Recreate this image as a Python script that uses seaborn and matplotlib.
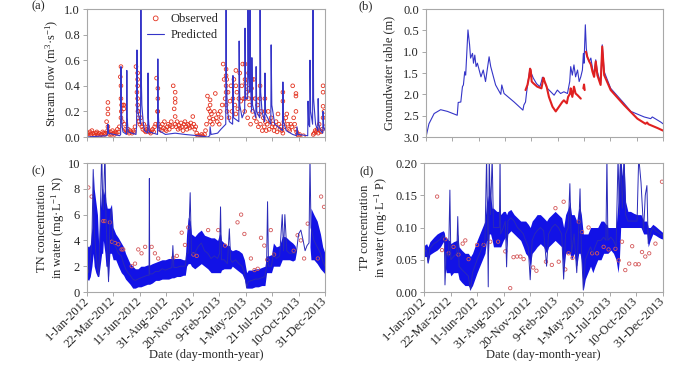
import numpy as np
import pandas as pd
import matplotlib
matplotlib.use("Agg")
import matplotlib.pyplot as plt
import seaborn as sns

# ---- shared x axis (days since 1-Jan-2012) ----
tick_days = [0, 81, 162, 243, 324, 405, 486, 567, 648, 729]
tick_labels = ['1-Jan-2012', '22-Mar-2012', '11-Jun-2012', '31-Aug-2012', '20-Nov-2012',
               '9-Feb-2013', '1-May-2013', '21-Jul-2013', '10-Oct-2013', '31-Dec-2013']

# ---- (a) stream flow ----
# observed, sampled every 3 days
flow_obs = [
    0.02, 0.03, 0.01, 0.04, 0.02, 0.05, 0.03, 0.02, 0.01, 0.03,
    0.04, 0.02, 0.03, 0.01, 0.02, 0.02, 0.04, 0.03, 0.02, 0.03,
    0.12, 0.05, 0.03, 0.02, 0.04, 0.02, 0.05, 0.03, 0.02, 0.04,
    0.03, 0.06, 0.04, 0.08, 0.47, 0.20, 0.12, 0.25, 0.10, 0.06,
    0.05, 0.04, 0.06, 0.03, 0.05, 0.04, 0.03, 0.05, 0.04, 0.08,
    0.55, 0.35, 0.20, 0.12, 0.10, 0.15, 0.08, 0.06, 0.10, 0.05,
    0.04, 0.06, 0.08, 0.05, 0.04, 0.03, 0.05, 0.06, 0.04, 0.08,
    0.10, 0.46, 0.20, 0.10, 0.06, 0.08, 0.05, 0.10, 0.07, 0.12,
    0.06, 0.05, 0.08, 0.10, 0.06, 0.09, 0.12, 0.08, 0.40, 0.22,
    0.10, 0.08, 0.12, 0.06, 0.09, 0.07, 0.11, 0.08, 0.05, 0.10,
    0.12, 0.08, 0.06, 0.10, 0.09, 0.07, 0.11, 0.08, 0.16, 0.10,
    0.06, 0.08, 0.03, 0.01, 0.00, 0.01, 0.00, 0.02, 0.01, 0.00,
    0.02, 0.05, 0.10, 0.32, 0.22, 0.15, 0.12, 0.18, 0.10, 0.14,
    0.20, 0.34, 0.15, 0.12, 0.18, 0.10, 0.20, 0.15, 0.25, 0.57,
    0.45, 0.30, 0.25, 0.20, 0.35, 0.15, 0.28, 0.40, 0.20, 0.30,
    0.45, 0.25, 0.18, 0.35, 0.22, 0.30, 0.50, 0.28, 0.40, 0.57,
    0.30, 0.20, 0.42, 0.35, 0.15, 0.30, 0.25, 0.10, 0.38, 0.20,
    0.45, 0.15, 0.30, 0.12, 0.25, 0.08, 0.18, 0.10, 0.20, 0.05,
    0.15, 0.08, 0.12, 0.05, 0.10, 0.20, 0.06, 0.12, 0.15, 0.08,
    0.10, 0.05, 0.08, 0.12, 0.04, 0.18, 0.10, 0.06, 0.08, 0.05,
    0.03, 0.12, 0.08, 0.15, 0.18, 0.10, 0.06, 0.05, 0.10, 0.08,
    0.40, 0.15, 0.10, 0.06, 0.04, 0.02, 0.01, 0.02, np.nan, np.nan,
    np.nan, 0.01, np.nan, np.nan, np.nan, np.nan, np.nan, np.nan, np.nan, np.nan,
    np.nan, 0.02, 0.03, 0.05, 0.04, 0.06, 0.03, 0.10, 0.05, 0.04,
    0.06, 0.40, 0.20, 0.08,
]
# extra observed points during storm recessions
flow_ev_day = [64, 64, 64, 64, 104, 104, 104, 104, 106, 113, 113, 155, 155, 155, 155, 155,
               157, 157, 217, 217, 217, 270, 270, 270, 270, 377, 377, 377, 426, 426, 426, 426,
               428, 456, 456, 484, 484, 484, 495, 495, 505, 505, 530, 530, 545, 545,
               600, 600, 640, 640, 640, 723, 723, 723]
flow_ev_val = [0.27, 0.22, 0.18, 0.08, 0.55, 0.40, 0.30, 0.15, 0.25, 0.25, 0.22, 0.50, 0.45, 0.40, 0.30, 0.25,
               0.15, 0.20, 0.38, 0.30, 0.20, 0.35, 0.30, 0.27, 0.16, 0.29, 0.25, 0.20, 0.53, 0.48, 0.40, 0.35,
               0.45, 0.52, 0.40, 0.57, 0.45, 0.30, 0.50, 0.38, 0.45, 0.30, 0.40, 0.30, 0.30, 0.20,
               0.35, 0.28, 0.34, 0.32, 0.20, 0.35, 0.24, 0.15]
flow_pred_day = [0, 60, 63, 64, 66, 100, 103, 104, 105, 107, 110, 121, 122, 123, 126, 150, 152, 153,
                 154, 156, 164, 165, 166, 168, 172, 176, 186, 187, 188, 191, 216, 217, 218, 221,
                 240, 270, 300, 340, 370, 376, 377, 380, 400, 410, 425, 426, 427, 430, 436, 446,
                 447, 449, 465, 466, 468, 475, 483, 484, 486, 492, 493, 495, 498, 499, 501, 504,
                 505, 507, 517, 518, 520, 529, 530, 532, 536, 544, 545, 547, 563, 564, 566, 575,
                 599, 600, 602, 610, 630, 642, 643, 646, 676, 677, 679, 682, 683, 685, 691, 692,
                 694, 700, 707, 708, 710, 715, 722, 723, 725, 729]
flow_pred_val = [0.0, 0.01, 0.02, 0.10, 0.03, 0.01, 0.02, 0.55, 0.25, 0.10, 0.04, 0.02, 0.52, 0.15, 0.04, 0.02, 0.10, 0.68,
                 0.30, 0.20, 0.10, 1.30, 0.50, 0.25, 0.12, 0.05, 0.03, 0.50, 0.15, 0.04, 0.02, 0.61, 0.20, 0.05,
                 0.02, 0.03, 0.02, 0.01, 0.0, 0.01, 0.08, 0.02, 0.03, 0.06, 0.10, 1.30, 0.45, 0.20, 0.12, 0.10,
                 0.48, 0.15, 0.12, 0.75, 0.25, 0.15, 0.20, 0.85, 0.30, 0.30, 1.30, 0.50, 0.35, 1.30, 0.40, 0.20,
                 0.62, 0.25, 0.15, 0.55, 0.20, 0.15, 1.30, 0.35, 0.20, 0.12, 0.50, 0.18, 0.10, 0.72, 0.25, 0.10,
                 0.05, 0.43, 0.12, 0.05, 0.02, 0.01, 0.08, 0.02, 0.01, 0.28, 0.10, 0.08, 0.60, 0.20, 0.10, 1.30,
                 0.30, 0.10, 0.05, 0.30, 0.10, 0.05, 0.03, 0.20, 0.08, 0.05]

# ---- (b) groundwater table depth ----
gw_pred_day = [0, 9, 25, 45, 66, 96, 99, 107, 112, 115, 119, 122, 129, 134, 137, 143, 146, 150, 154, 158,
               169, 176, 183, 194, 199, 214, 230, 233, 240, 271, 298, 301, 306, 309, 313, 316, 320, 324,
               330, 340, 350, 355, 358, 364, 372, 394, 404, 414, 424, 435, 442, 445, 450, 455, 460, 466,
               471, 476, 481, 484, 486, 490, 493, 496, 502, 507, 512, 517, 522, 527, 537, 542, 548, 568,
               609, 630, 671, 691, 696, 722, 729]
gw_pred_val = [3.0, 2.69, 2.45, 2.36, 2.40, 2.49, 2.19, 2.18, 1.82, 1.78, 1.47, 1.55, 0.49, 0.84, 1.15, 1.04, 1.27, 1.08, 1.35, 1.27,
               1.59, 1.43, 1.70, 1.12, 1.35, 1.78, 2.00, 1.78, 1.98, 2.18, 2.37, 2.25, 2.18, 1.98, 1.74, 1.59, 1.39, 1.51,
               1.62, 1.75, 1.82, 1.70, 1.60, 1.70, 1.85, 2.02, 1.90, 1.98, 1.94, 1.98, 1.70, 1.35, 1.55, 1.31, 1.59, 1.43,
               1.70, 1.59, 1.43, 1.04, 1.27, 0.37, 0.92, 1.12, 1.23, 1.15, 1.39, 1.55, 1.19, 1.47, 1.74, 0.84, 1.47, 1.86,
               2.21, 2.40, 2.53, 2.57, 2.53, 2.65, 2.69]
gw_obs_day = [306, 312, 317, 320, 322, 325, 330, 342, 355, 358, 361, 365, 371, 378, 389, 399, 409, 419, 424,
              433, 437, 443, 445, 450, 455, 460, 466, 476,
              484, 486, 488,
              492, 496, 502, 507, 512, 517, 522, 527, 537, 542, 548, 568, 609, 650, 675, 680, 684, 712, 729]
gw_obs_val = [1.90, 1.78, 1.59, 1.40, 1.43, 1.70, 1.74, 1.82, 1.86, 1.74, 1.61, 1.70, 1.82, 2.06, 2.29, 2.40, 2.29, 2.18, 2.14,
              2.21, 2.06, 1.98, 1.86, 2.06, 1.82, 1.98, 2.02, 2.10,
              1.86, 1.77, 1.90,
              1.00, 1.12, 1.23, 1.30, 1.47, 1.59, 1.23, 1.55, 1.78, 0.88, 1.55, 1.90, 2.25, 2.57, 2.69, 2.66, 2.70, 2.79, 2.85]
gw_obs_seg = [1] * 28 + [2] * 3 + [3] * 19

# ---- (c) TN concentration ----
tn_day = [0, 5, 10, 15, 19, 22, 27, 32, 36, 40,
          45, 48, 50, 55, 58, 62, 66, 70, 75, 80,
          88, 96, 105, 112, 118, 125, 132, 140, 148, 156,
          165, 175, 185, 190, 191, 192, 200, 210, 220, 230,
          240, 250, 260, 263, 266, 275, 285, 295, 301, 305,
          310, 316, 320, 330, 340, 350, 360, 370, 380, 390,
          400, 406, 409, 412, 420, 430, 436, 440, 445, 455,
          465, 475, 482, 489, 494, 505, 515, 525, 535, 545,
          550, 553, 556, 565, 571, 580, 590, 598, 602, 606,
          612, 620, 630, 637, 642, 648, 655, 662, 668, 674,
          680, 683, 686, 695, 705, 715, 722, 729]
tn_low = [1.0, 0.9, 1.2, 2.0, 3.0, 2.0, 1.5, 1.2, 1.2, 2.0,
          3.0, 3.0, 4.0, 3.0, 2.0, 2.0, 1.2, 3.0, 3.0, 2.5,
          2.5, 2.0, 1.5, 1.3, 1.0, 0.8, 0.6, 0.3, 0.3, 0.4,
          0.4, 0.5, 0.6, 0.6, 0.6, 0.6, 0.7, 0.9, 0.9, 1.0,
          1.0, 1.0, 1.1, 1.1, 1.1, 1.2, 1.2, 1.3, 1.3, 2.0,
          2.2, 2.2, 2.0, 1.8, 2.0, 2.2, 2.0, 1.8, 1.5, 1.5,
          1.5, 1.5, 1.5, 1.7, 1.8, 1.8, 1.8, 1.8, 2.0, 1.8,
          1.6, 1.4, 1.0, 0.3, 0.3, 0.3, 0.4, 0.4, 0.5, 0.5,
          1.5, 1.5, 1.5, 1.5, 2.0, 2.0, 2.0, 2.5, 2.5, 2.5,
          2.5, 2.5, 2.4, 2.5, 3.2, 4.5, 4.8, 4.0, 3.2, 3.5,
          3.5, 3.5, 2.5, 2.5, 2.2, 1.8, 1.6, 1.4]
tn_high = [3.6, 3.5, 3.7, 5.0, 9.5, 8.0, 7.0, 6.0, 3.5, 6.0,
           8.0, 8.0, 7.5, 8.0, 7.0, 6.5, 6.5, 6.5, 6.8, 5.0,
           4.5, 4.2, 3.8, 3.5, 3.0, 2.6, 2.2, 2.0, 1.8, 1.8,
           2.0, 2.0, 2.1, 2.1, 2.1, 2.1, 2.2, 2.3, 2.4, 2.5,
           2.5, 2.6, 2.6, 2.6, 2.6, 2.6, 2.6, 2.5, 2.5, 4.5,
           5.8, 5.5, 4.5, 4.3, 4.6, 4.8, 4.4, 4.3, 4.2, 4.2,
           4.0, 4.5, 4.5, 4.0, 3.8, 3.6, 3.6, 3.3, 3.2, 3.3,
           3.2, 3.0, 2.5, 1.5, 1.7, 1.7, 1.8, 1.8, 1.9, 2.0,
           2.8, 2.8, 2.8, 2.9, 3.8, 3.5, 3.6, 4.3, 4.3, 4.3,
           4.2, 4.0, 3.8, 3.6, 3.2, 4.5, 4.8, 4.0, 3.2, 3.5,
           3.5, 3.5, 6.5, 6.0, 5.5, 4.5, 3.5, 3.0]
tn_pred = [2.0, 1.5, 2.5, 4.0, 9.5, 5.0, 3.0, 2.0, 1.3, 5.0,
           11.0, 7.0, 6.4, 11.0, 6.0, 3.0, 0.8, 5.5, 6.5, 3.8,
           3.5, 3.0, 2.8, 2.2, 1.8, 1.5, 1.3, 1.0, 0.9, 1.0,
           1.1, 1.2, 1.3, 1.3, 8.8, 1.4, 1.4, 1.6, 1.6, 1.8,
           1.7, 1.8, 1.9, 3.6, 1.9, 1.9, 2.0, 2.0, 2.0, 3.0,
           3.0, 7.7, 3.0, 3.0, 3.5, 3.8, 3.2, 3.0, 2.6, 2.8,
           2.6, 3.0, 6.6, 2.5, 2.5, 2.2, 4.9, 2.5, 2.3, 2.5,
           2.2, 2.0, 1.5, 0.3, 0.8, 0.9, 1.0, 1.0, 1.1, 1.2,
           2.0, 7.0, 2.0, 2.0, 3.0, 2.6, 2.8, 6.0, 3.2, 6.0,
           3.2, 3.0, 3.0, 3.0, 3.2, 4.5, 4.8, 4.0, 3.2, 3.6,
           3.8, 10.5, 5.0, 4.0, 3.5, 3.0, 2.4, 2.0]
tn_obs_day = [4, 14, 50, 55, 70, 76, 86, 96, 106, 111, 137, 147, 157, 167, 178, 198, 208, 218, 264, 275,
              290, 300, 310, 326, 336, 371, 402, 423, 461, 472, 482, 502, 513, 523, 533, 543, 552, 563,
              573, 633, 645, 655, 665, 676, 707, 717, 726]
tn_obs_val = [8.1, 7.4, 5.5, 5.5, 5.4, 3.9, 3.8, 3.7, 3.3, 3.3, 2.0, 2.2, 3.3, 3.0, 3.5, 3.5, 3.0, 2.6, 2.65, 2.8,
              4.6, 3.65, 5.0, 2.9, 2.8, 4.8, 4.8, 3.6, 5.4, 6.0, 4.5, 2.6, 1.7, 1.8, 4.2, 3.6, 2.5, 4.8,
              2.9, 3.2, 4.4, 4.0, 2.6, 5.3, 2.6, 7.4, 6.6]

# ---- (d) TP concentration ----
tp_day = [0, 8, 12, 18, 30, 40, 50, 59, 62, 64,
          68, 75, 79, 82, 90, 100, 103, 107, 115, 125,
          135, 142, 148, 155, 162, 170, 178, 186, 191, 194,
          196, 199, 203, 208, 212, 222, 230, 232, 234, 242,
          248, 252, 256, 265, 275, 285, 295, 303, 310, 318,
          324, 330, 338, 345, 355, 365, 374, 380, 390, 400,
          410, 420, 426, 432, 440, 445, 450, 458, 466, 472,
          476, 480, 486, 492, 500, 508, 515, 522, 530, 540,
          548, 555, 558, 561, 570, 578, 586, 592, 596, 600,
          605, 610, 615, 622, 630, 640, 650, 655, 662, 670,
          675, 680, 684, 690, 698, 706, 715, 722, 729]
tp_low = [.055, .055, .044, .058, .062, .065, .070, .078, .075, .040,
          .030, .030, .030, .025, .030, .030, .030, .020, .015, .010,
          .010, .005, .010, .020, .030, .040, .050, .060, .080, .080,
          .050, .090, .090, .080, .070, .070, .070, .070, .070, .080,
          .085, .070, .090, .095, .090, .085, .080, .070, .060, .055,
          .040, .060, .065, .070, .075, .070, .060, .070, .075, .080,
          .075, .070, .030, .060, .060, .060, .050, .060, .040, .060,
          .060, .050, .003, .020, .030, .040, .030, .040, .050, .050,
          .060, .060, .060, .060, .065, .060, .050, .030, .050, .100,
          .100, .100, .100, .100, .100, .100, .100, .100, .100, .090,
          .090, .090, .070, .080, .090, .088, .085, .083, .082]
tp_high = [.072, .075, .070, .078, .085, .090, .093, .095, .092, .085,
           .085, .080, .080, .075, .078, .080, .090, .070, .065, .060,
           .060, .055, .060, .070, .080, .090, .100, .110, .140, .150,
           .140, .170, .150, .130, .130, .125, .125, .130, .120, .125,
           .125, .120, .125, .128, .120, .115, .110, .110, .110, .105,
           .100, .110, .115, .120, .120, .115, .110, .115, .120, .125,
           .120, .115, .100, .120, .130, .140, .120, .120, .110, .130,
           .130, .120, .090, .090, .090, .100, .100, .100, .100, .110,
           .110, .105, .105, .100, .100, .100, .100, .140, .200, .210,
           .180, .210, .140, .125, .125, .122, .120, .120, .120, .110,
           .110, .110, .100, .100, .105, .102, .098, .095, .092]
tp_pred = [.062, .065, .045, .068, .075, .078, .082, .088, .085, .011,
           .060, .055, .158, .050, .055, .060, .117, .040, .035, .030,
           .025, .003, .030, .040, .050, .060, .070, .080, .210, .100,
           .008, .210, .120, .210, .100, .100, .100, .210, .090, .100,
           .110, .039, .110, .115, .110, .100, .095, .090, .080, .070,
           .019, .080, .090, .095, .100, .095, .040, .090, .100, .105,
           .100, .090, .020, .090, .100, .168, .060, .090, .030, .100,
           .160, .070, .003, .050, .060, .070, .060, .070, .080, .080,
           .085, .080, .210, .080, .085, .080, .070, .210, .120, .210,
           .130, .210, .120, .110, .110, .110, .110, .210, .170, .095,
           .150, .165, .075, .090, .100, .095, .092, .090, .088]
tp_obs_day = [40, 55, 65, 75, 90, 105, 118, 126, 136, 162, 182, 202, 226, 248, 263, 273, 284, 294, 304, 333,
              343, 372, 390, 401, 411, 426, 431, 441, 453, 472, 482, 502, 513, 528, 548, 563, 584, 594,
              604, 614, 626, 635, 645, 655, 665, 675, 687, 706, 726]
tp_obs_val = [0.148, 0.065, 0.082, 0.060, 0.070, 0.058, 0.075, 0.080, 0.051, 0.073, 0.073, 0.078, 0.078, 0.063,
              0.006, 0.054, 0.055, 0.055, 0.051, 0.038, 0.033, 0.047, 0.042, 0.130, 0.047, 0.140, 0.035,
              0.060, 0.053, 0.109, 0.093, 0.100, 0.060, 0.060, 0.070, 0.066, 0.067, 0.049, 0.078, 0.034,
              0.044, 0.071, 0.043, 0.043, 0.062, 0.055, 0.060, 0.075, 0.171]

# ---- style ----
sns.set_style("ticks")
plt.rcParams["font.family"] = ["Liberation Serif", "DejaVu Serif"]
plt.rcParams["mathtext.fontset"] = "custom"
plt.rcParams["mathtext.rm"] = "Liberation Serif"
plt.rcParams["mathtext.it"] = "Liberation Serif:italic"
plt.rcParams["font.size"] = 9

RED = "#e3321f"
PINK = "#d4585a"
BLUE = "#3535c8"
BAND = "#1212e6"

fig = plt.figure(figsize=(7, 3.68), dpi=100)
ax_a = fig.add_axes([0.1243, 0.6277, 0.340, 0.3478])
ax_b = fig.add_axes([0.6086, 0.6277, 0.3386, 0.3478])
ax_c = fig.add_axes([0.1243, 0.2065, 0.340, 0.3505])
ax_d = fig.add_axes([0.6057, 0.2065, 0.3414, 0.3505])


def frame(ax, labels):
    for s in ax.spines.values():
        s.set_color("#a8a8a8")
        s.set_linewidth(0.8)
    ax.set_xlim(0, 729)
    ax.set_xticks(tick_days)
    ax.tick_params(direction="out", length=3, width=0.7, color="#a8a8a8", labelsize=9, pad=2)
    if labels:
        ax.set_xticklabels(tick_labels, rotation=45, ha="right", va="center", rotation_mode="anchor")
        ax.set_xlabel("Date (day-month-year)", fontsize=9)
        ax.xaxis.set_label_coords(0.5, -0.44)
    else:
        ax.set_xticklabels([])
        ax.set_xlabel("")


# (a)
flow_days = [3 * i for i in range(len(flow_obs))]
sns.lineplot(x=flow_pred_day, y=flow_pred_val, ax=ax_a, color=BLUE, lw=0.8, estimator=None, sort=False,
             label="Predicted")
sns.scatterplot(x=flow_days + flow_ev_day, y=flow_obs + flow_ev_val, ax=ax_a, marker="o", s=7,
                facecolor="none", edgecolor=RED, linewidth=0.6, label="Observed")
ax_a.set_ylim(0, 1.0)
ax_a.set_yticks([0, 0.2, 0.4, 0.6, 0.8, 1.0])
ax_a.set_yticklabels(["0.0", "0.2", "0.4", "0.6", "0.8", "1.0"])
ax_a.set_ylabel("Stream flow (m$^{3}$·s$^{-1}$)", fontsize=9)
ax_a.yaxis.set_label_coords(-0.109, 0.5)
frame(ax_a, False)
h, l = ax_a.get_legend_handles_labels()
ax_a.legend([h[1], h[0]], [l[1], l[0]], loc="upper left", bbox_to_anchor=(0.215, 1.04), frameon=False,
            fontsize=9, handlelength=1.4, handletextpad=0.5, labelspacing=0.35, borderpad=0.2,
            markerscale=1.3)

# (b)
sns.lineplot(x=gw_pred_day, y=gw_pred_val, ax=ax_b, color=BLUE, lw=0.8, estimator=None, sort=False)
gw_obs = pd.DataFrame({"day": gw_obs_day, "depth": gw_obs_val, "seg": gw_obs_seg})
sns.lineplot(data=gw_obs, x="day", y="depth", units="seg", ax=ax_b, color="#e02020", lw=1.5,
             estimator=None, sort=False)
ax_b.set_ylim(3.0, 0.0)
ax_b.set_yticks([0, 0.5, 1.0, 1.5, 2.0, 2.5, 3.0])
ax_b.set_yticklabels(["0.0", "0.5", "1.0", "1.5", "2.0", "2.5", "3.0"])
ax_b.set_ylabel("Groundwater table (m)", fontsize=9)
ax_b.yaxis.set_label_coords(-0.131, 0.5)
frame(ax_b, False)

# (c)
ax_c.fill_between(tn_day, tn_low, tn_high, color=BAND, lw=0)
sns.lineplot(x=tn_day, y=tn_pred, ax=ax_c, color="#2a2ab8", lw=0.7, estimator=None, sort=False)
sns.scatterplot(x=tn_obs_day, y=tn_obs_val, ax=ax_c, marker="o", s=6, facecolor="none",
                edgecolor=PINK, linewidth=0.6)
ax_c.set_ylim(0, 10)
ax_c.set_yticks([0, 2, 4, 6, 8, 10])
ax_c.set_ylabel("TN concentration\nin water (mg·L$^{-1}$ N)", fontsize=9, linespacing=1.1)
ax_c.yaxis.set_label_coords(-0.084, 0.5)
frame(ax_c, True)

# (d)
ax_d.fill_between(tp_day, tp_low, tp_high, color=BAND, lw=0)
sns.lineplot(x=tp_day, y=tp_pred, ax=ax_d, color="#2a2ab8", lw=0.7, estimator=None, sort=False)
sns.scatterplot(x=tp_obs_day, y=tp_obs_val, ax=ax_d, marker="o", s=6, facecolor="none",
                edgecolor=PINK, linewidth=0.6)
ax_d.set_ylim(0, 0.2)
ax_d.set_yticks([0, 0.05, 0.10, 0.15, 0.20])
ax_d.set_yticklabels(["0.00", "0.05", "0.10", "0.15", "0.20"])
ax_d.set_ylabel("TP concentration\nin water (mg·L$^{-1}$ P)", fontsize=9, linespacing=1.1)
ax_d.yaxis.set_label_coords(-0.142, 0.5)
frame(ax_d, True)

for txt, x, y in [("(a)", 38, 6), ("(b)", 366, 6), ("(c)", 38, 171), ("(d)", 367, 171)]:
    fig.text(x / 700, 1 - y / 368, txt, ha="center", va="center", fontsize=9)

fig.savefig("out.png", dpi=100)
